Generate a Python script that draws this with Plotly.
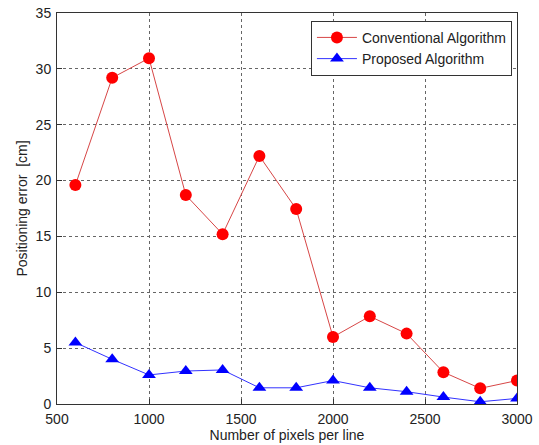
import plotly.graph_objects as go

pixels = [600, 800, 1000, 1200, 1400, 1600, 1800, 2000, 2200, 2400, 2600, 2800, 3000]
conventional = [19.6, 29.2, 30.95, 18.7, 15.2, 22.2, 17.45, 6.0, 7.85, 6.3, 2.85, 1.4, 2.1]
proposed = [5.5, 4.0, 2.6, 2.95, 3.05, 1.45, 1.45, 2.1, 1.45, 1.1, 0.62, 0.2, 0.5]
x_ticks = [500, 1000, 1500, 2000, 2500, 3000]
y_ticks = [0, 5, 10, 15, 20, 25, 30, 35]

FONT = "Liberation Sans, Arial, sans-serif"

fig = go.Figure()
fig.add_trace(go.Scatter(
    x=pixels, y=conventional, mode="lines+markers", name="Conventional Algorithm",
    line=dict(color="rgb(215,70,70)", width=1),
    marker=dict(symbol="circle", size=12, color="red"),
))
fig.add_trace(go.Scatter(
    x=pixels, y=proposed, mode="lines+markers", name="Proposed Algorithm",
    line=dict(color="rgb(50,50,255)", width=1),
    marker=dict(symbol="triangle-up", size=12, color="blue"),
))

axis_common = dict(
    showline=True, linecolor="#333", linewidth=1, mirror=True,
    ticks="inside", ticklen=5, tickcolor="#333",
    showgrid=True, gridcolor="#666", griddash="dot", gridwidth=1,
    zeroline=False, automargin=False,
    tickfont=dict(family=FONT, size=14, color="#222"),
)

fig.update_xaxes(range=[500, 3000], tickvals=x_ticks, ticklabelstandoff=2,
                 title=dict(text="Number of pixels per line", standoff=1,
                            font=dict(family=FONT, size=14, color="#222")),
                 **axis_common)
fig.update_yaxes(range=[0, 35], tickvals=y_ticks, ticklabelstandoff=2,
                 title=dict(text="Positioning error  [cm]", standoff=4,
                            font=dict(family=FONT, size=14, color="#222")),
                 **axis_common)

fig.update_layout(
    width=539, height=445,
    margin=dict(l=57, r=22, t=13, b=41),
    plot_bgcolor="white", paper_bgcolor="white",
    font=dict(family=FONT, size=14, color="#222"),
    legend=dict(
        x=0.989, y=0.98, xanchor="right", yanchor="top",
        bgcolor="white", bordercolor="#333", borderwidth=1,
        font=dict(family=FONT, size=14, color="#222"),
        tracegroupgap=0, itemwidth=40,
    ),
    showlegend=True,
)

fig.write_html("out.html")
